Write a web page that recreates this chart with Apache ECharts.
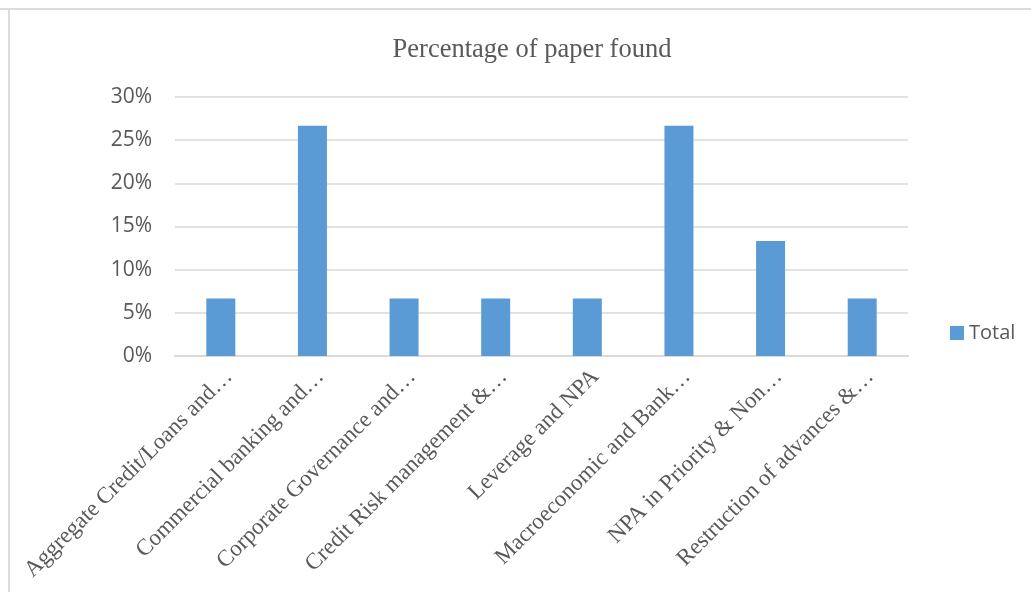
<!DOCTYPE html>
<html>
<head>
<meta charset="utf-8">
<script src="https://cdn.jsdelivr.net/npm/echarts@6/dist/echarts.min.js"></script>
<style>
html,body{margin:0;padding:0;background:#fff;}
#wrap{position:relative;width:1031px;height:592px;overflow:hidden;}
#topline{position:absolute;left:0;top:8px;width:1031px;height:2px;background:#dcdcdc;}
#leftline{position:absolute;left:8px;top:10px;width:2px;height:582px;background:#dcdcdc;}
#chart{position:absolute;left:0;top:0;width:1031px;height:592px;}
</style>
</head>
<body>
<div id="wrap">
<div id="topline"></div>
<div id="leftline"></div>
<div id="chart"></div>
</div>
<script>
const categories = [
  "Aggregate Credit/Loans and…",
  "Commercial banking and…",
  "Corporate Governance and…",
  "Credit Risk management &…",
  "Leverage and NPA",
  "Macroeconomic and Bank…",
  "NPA in Priority & Non…",
  "Restruction of advances &…"
];
const totalValues = [6.67, 26.67, 6.67, 6.67, 6.67, 26.67, 13.33, 6.67];
const seriesName = "Total";
const chartTitle = "Percentage of paper found";

const chart = echarts.init(document.getElementById('chart'), null, {renderer:'canvas'});
chart.setOption({
  animation:false,
  title:{
    text:chartTitle,
    left:527, top:32, textAlign:'center',
    textStyle:{fontFamily:'Liberation Serif', fontSize:26.5, fontWeight:'normal', color:'#595959'}
  },
  legend:{
    data:[seriesName],
    orient:'vertical',
    left:950, top:323, padding:0,
    itemWidth:14, itemHeight:14, itemGap:4,
    icon:'rect',
    textStyle:{fontFamily:'Open Sans', fontSize:20, color:'#595959'}
  },
  grid:{left:175, right:123, top:97, bottom:236, containLabel:false},
  xAxis:{
    type:'category',
    data:categories,
    axisLine:{show:true, lineStyle:{color:'#d9d9d9', width:2}},
    axisTick:{show:false},
    axisLabel:{
      rotate:45, interval:0, margin:9, verticalAlign:'top',
      fontFamily:'Liberation Serif', fontSize:23, color:'#595959'
    }
  },
  yAxis:{
    type:'value',
    min:0, max:30, interval:5,
    axisLine:{show:false},
    axisTick:{show:false},
    splitLine:{lineStyle:{color:'#d9d9d9', width:1.5}},
    axisLabel:{
      formatter:function(v){return v+'%';},
      margin:23,
      fontFamily:'Open Sans', fontSize:21, color:'#595959'
    }
  },
  series:[{
    name:seriesName,
    type:'bar',
    data:totalValues,
    barWidth:29,
    itemStyle:{color:'#5b9bd5'}
  }]
});
</script>
</body>
</html>
